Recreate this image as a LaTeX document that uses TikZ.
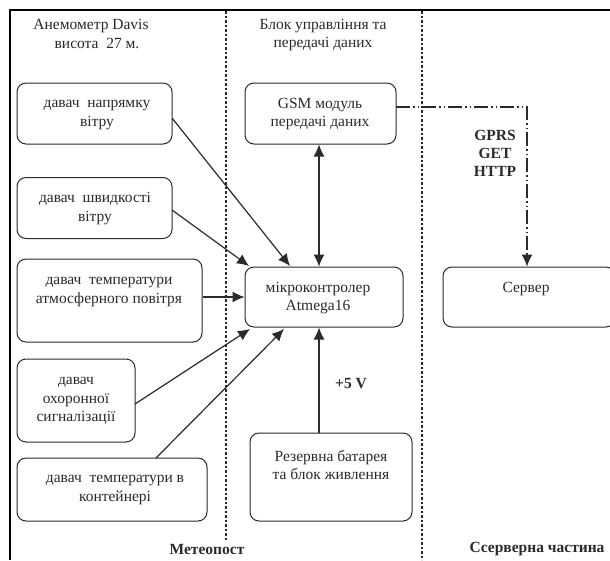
\documentclass[tikz,border=0pt]{standalone}
\usepackage{fontspec}
\setmainfont{Liberation Serif}
\usetikzlibrary{arrows.meta}
\definecolor{ink}{HTML}{2A2A2A}
\tikzset{
 x=1pt,y=-1pt,
 every node/.style={font=\fontsize{15.5}{18}\selectfont,text=ink,align=center,inner sep=0pt},
 blk/.style={draw=ink,line width=1pt,rounded corners=9pt},
 lab/.style={font=\fontsize{15.5}{18.5}\selectfont},
 boldlab/.style={font=\fontsize{15.5}{18}\selectfont\bfseries},
 sep/.style={draw=ink,line width=1.4pt,dash pattern=on 2.5pt off 2pt},
 frameline/.style={draw=black,line width=2.2pt},
 conn/.style={draw=ink,line width=1.2pt,-{Latex[length=12pt,width=11pt]}},
 connb/.style={draw=ink,line width=1.2pt,{Latex[length=12pt,width=11pt]}-{Latex[length=12pt,width=11pt]}},
 connd/.style={draw=ink,line width=1.3pt,dash pattern=on 14pt off 3pt on 1.5pt off 3pt on 1.5pt off 3pt,-{Latex[length=12pt,width=11pt]}}
}
\begin{document}
\begin{tikzpicture}
\useasboundingbox (0,0) rectangle (610,560);
\fill[white] (0,0) rectangle (610,560);
\coordinate (fa) at (610,10);
\coordinate (fb) at (10,10);
\coordinate (fc) at (10,560);
\draw[frameline] (fa) -- (fb) -- (fc);
\coordinate (s1a) at (226,11);
\coordinate (s1b) at (226,540);
\coordinate (s2a) at (422,11);
\coordinate (s2b) at (422,560);
\draw[sep] (s1a) -- (s1b);
\draw[sep] (s2a) -- (s2b);

\node[blk,minimum width=155pt,minimum height=61pt] (b1) at (94.5,113.5) {};
\node[lab] (b1t) at (97,115) {давач\ \ напрямку\\вітру};
\node[blk,minimum width=155pt,minimum height=61pt] (b2) at (94.5,208) {};
\node[lab] (b2t) at (95,208.5) {давач\ \ швидкості\\вітру};
\node[blk,minimum width=185pt,minimum height=83pt] (b3) at (109.5,300.5) {};
\node[lab] (b3t) at (109,292) {давач\ \ температури\\атмосферного повітря};
\node[blk,minimum width=118pt,minimum height=83pt] (b4) at (76,400.5) {};
\node[lab] (b4t) at (76,401) {давач\\охоронної\\сигналізації};
\node[blk,minimum width=190pt,minimum height=63pt] (b5) at (112,489.5) {};
\node[lab] (b5t) at (115,490) {давач\ \ температури в\\контейнері};
\node[blk,minimum width=151pt,minimum height=61pt] (gsm) at (320.5,113.5) {};
\node[lab] (gsmt) at (320,114) {GSM модуль\\передачі даних};
\node[blk,minimum width=158pt,minimum height=60pt] (mcu) at (324,297) {};
\node[lab] (mcut) at (318,298) {мікроконтролер\\Atmega16};
\node[blk,minimum width=162pt,minimum height=88pt] (bat) at (331,477) {};
\node[lab] (batt) at (331,465) {Резервна батарея\\та блок живлення};
\node[blk,minimum width=172pt,minimum height=60pt] (srv) at (529,297) {};
\node[lab] (srvt) at (526,289) {Сервер};

\node[lab] (t1) at (91,34) {Анемометр Davis\\\hspace*{12pt}висота\ \ 27 м.};
\node[lab] (t2) at (323,35) {Блок управління та\\передачі даних};
\node[boldlab] (t3) at (207,549) {Метеопост};
\node[boldlab] (t4) at (537,549) {Ссерверна частина};
\node[boldlab] (t5) at (495,153) {GPRS\\GET\\HTTP};
\node[boldlab] (t6) at (351,384) {+5 V};

\coordinate (c1) at (290,266);
\coordinate (c2) at (249,266);
\coordinate (c4) at (250,329);
\coordinate (c5) at (284,329);
\coordinate (e1) at (172,118);
\coordinate (e2) at (172,210);
\coordinate (e4) at (135,404);
\coordinate (e5) at (156,458);
\draw[conn] (e1) -- (c1);
\draw[conn] (e2) -- (c2);
\draw[conn] (b3.east |- mcu.west) -- (mcu.west);
\draw[conn] (e4) -- (c4);
\draw[conn] (e5) -- (c5);
\coordinate (g1) at (319,144.5);
\coordinate (m1) at (319,266.5);
\draw[connb] (g1) -- (m1);
\coordinate (m2) at (319,327.5);
\coordinate (p1) at (319,433);
\draw[conn] (p1) -- (m2);
\coordinate (gd) at (396,107);
\coordinate (cd) at (527,107);
\coordinate (sd) at (527,266.5);
\draw[connd] (gd) -- (cd) -- (sd);
\end{tikzpicture}
\end{document}
